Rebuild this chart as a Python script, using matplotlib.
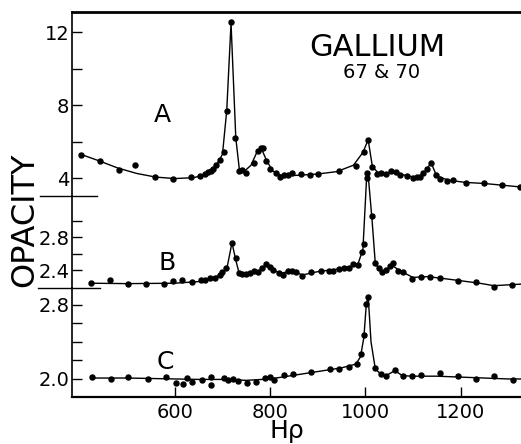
import numpy as np
import matplotlib
matplotlib.use("Agg")
import matplotlib.pyplot as plt
from matplotlib.lines import Line2D

# --- trace A ---
a_dot_x = [403, 443, 482, 517, 558, 596, 633, 653, 663, 670, 676, 680, 687, 695, 703,
           709, 718, 727, 735, 742, 750, 767, 774, 781, 785, 792, 800, 812, 821, 829,
           837, 846, 864, 884, 900, 944, 981, 998, 1006, 1015, 1025, 1033, 1043, 1054,
           1064, 1073, 1088, 1100, 1108, 1115, 1122, 1130, 1138, 1148, 1156, 1172, 1185,
           1211, 1250, 1288, 1325]
a_dot_y = [5.28, 4.95, 4.44, 4.69, 4.07, 3.93, 4.07, 4.11, 4.24, 4.31, 4.40, 4.48, 4.69, 4.99, 5.44,
           7.7, 12.53, 6.2, 4.37, 4.44, 4.29, 4.8, 5.5, 5.63, 5.63, 4.95, 4.51, 4.29, 4.07, 4.18,
           4.18, 4.27, 4.2, 4.18, 4.22, 4.38, 4.66, 5.44, 6.1, 4.6, 4.2, 4.25, 4.24, 4.36,
           4.35, 4.15, 4.11, 4.0, 4.05, 4.04, 4.26, 4.48, 4.85, 4.15, 3.96, 3.85, 3.89,
           3.75, 3.74, 3.61, 3.52]
a_line_x = [400, 440, 480, 520, 560, 600, 640, 665, 685, 700, 709, 718, 728, 736, 745, 760, 772,
            782, 792, 805, 825, 860, 900, 940, 975, 995, 1006, 1015, 1030, 1050, 1070, 1090,
            1110, 1125, 1138, 1150, 1175, 1210, 1250, 1290, 1330]
a_line_y = [5.32, 4.95, 4.55, 4.25, 4.05, 3.97, 4.02, 4.2, 4.6, 5.3, 7.7, 12.5, 6.2, 4.35, 4.35,
            4.7, 5.4, 5.6, 5.0, 4.4, 4.12, 4.15, 4.22, 4.35, 4.7, 5.4, 6.1, 4.6, 4.22, 4.3,
            4.25, 4.1, 4.05, 4.3, 4.85, 4.1, 3.88, 3.76, 3.70, 3.6, 3.5]

# --- trace B ---
b_dot_x = [424, 464, 501, 540, 578, 596, 615, 636, 654, 664, 673, 684, 694, 700, 708,
           720, 728, 734, 742, 749, 758, 767, 774, 783, 791, 799, 807, 819, 828, 837,
           846, 854, 867, 886, 907, 923, 933, 945, 956, 965, 975, 984, 993, 998, 1003,
           1004, 1014, 1021, 1028, 1036, 1043, 1051, 1059, 1068, 1079, 1099, 1117, 1136,
           1156, 1194, 1232, 1271, 1308]
b_dot_y = [2.24, 2.275, 2.227, 2.227, 2.234, 2.27, 2.275, 2.25, 2.275, 2.28, 2.30, 2.307, 2.34, 2.37, 2.42,
           2.73, 2.54, 2.36, 2.35, 2.35, 2.36, 2.39, 2.37, 2.42, 2.47, 2.44, 2.40, 2.36, 2.34, 2.39,
           2.39, 2.38, 2.33, 2.38, 2.39, 2.39, 2.39, 2.41, 2.43, 2.43, 2.47, 2.46, 2.62, 2.715, 3.51,
           3.57, 3.05, 2.48, 2.42, 2.37, 2.40, 2.45, 2.49, 2.39, 2.38, 2.29, 2.315, 2.32,
           2.30, 2.27, 2.25, 2.20, 2.22]
b_line_x = [424, 500, 600, 650, 680, 700, 710, 720, 728, 735, 750, 765, 775, 790, 805, 820, 840,
            855, 868, 900, 940, 970, 985, 995, 1003, 1006, 1014, 1021, 1030, 1040, 1055, 1068,
            1080, 1100, 1130, 1160, 1200, 1240, 1270, 1300, 1330]
b_line_y = [2.24, 2.235, 2.24, 2.26, 2.30, 2.36, 2.44, 2.73, 2.52, 2.36, 2.35, 2.38, 2.38, 2.46,
            2.41, 2.36, 2.38, 2.37, 2.34, 2.38, 2.41, 2.44, 2.48, 2.65, 3.55, 3.55, 3.02, 2.48,
            2.40, 2.38, 2.46, 2.41, 2.37, 2.31, 2.32, 2.30, 2.27, 2.24, 2.21, 2.22, 2.23]

# --- trace C ---
c_dot_x = [426, 466, 501, 544, 581, 602, 617, 626, 636, 656, 675, 675, 703, 712, 723,
           732, 751, 770, 790, 799, 809, 830, 849, 886, 926, 945, 966, 982, 992, 997,
           1002, 1005, 1021, 1033, 1044, 1062, 1080, 1099, 1118, 1157, 1195, 1232, 1271, 1310]
c_dot_y = [2.018, 2.0, 2.025, 2.003, 2.025, 1.96, 1.95, 2.014, 1.968, 1.99, 2.018, 1.94, 2.014, 1.99, 2.0,
           1.98, 1.96, 1.968, 2.014, 2.025, 1.99, 2.043, 2.05, 2.072, 2.105, 2.105, 2.133, 2.159, 2.27, 2.475,
           2.81, 2.89, 2.116, 2.054, 2.036, 2.10, 2.032, 2.036, 2.043, 2.06, 2.036, 2.004, 2.032, 1.985]
c_line_x = [426, 500, 600, 650, 700, 750, 800, 850, 900, 950, 980, 990, 997, 1002, 1006, 1012,
            1021, 1033, 1045, 1062, 1078, 1100, 1150, 1200, 1250, 1300, 1330]
c_line_y = [2.01, 2.01, 2.0, 1.995, 1.995, 1.985, 2.0, 2.04, 2.08, 2.12, 2.16, 2.24, 2.45, 2.80,
            2.90, 2.4, 2.11, 2.05, 2.04, 2.09, 2.035, 2.03, 2.03, 2.02, 2.01, 2.0, 2.0]

x_ticks = [600, 800, 1000, 1200]

panels = [
    dict(name="A", dx=a_dot_x, dy=a_dot_y, lx=a_line_x, ly=a_line_y, ylim=(3.014, 13.10),
         ticks=[4, 6, 8, 10, 12], labels=["4", "", "8", "", "12"], lab_xy=(573, 7.45)),
    dict(name="B", dx=b_dot_x, dy=b_dot_y, lx=b_line_x, ly=b_line_y, ylim=(2.182, 3.297),
         ticks=[2.4, 2.6, 2.8, 3.0], labels=["2.4", "", "2.8", ""], lab_xy=(584, 2.485)),
    dict(name="C", dx=c_dot_x, dy=c_dot_y, lx=c_line_x, ly=c_line_y, ylim=(1.805, 2.983),
         ticks=[2.0, 2.2, 2.4, 2.6, 2.8], labels=["2.0", "", "", "", "2.8"], lab_xy=(581, 2.18)),
]

W, H = 521, 444
fig = plt.figure(figsize=(W / 100, H / 100), dpi=100)
plt.rcParams["font.family"] = ["DejaVu Sans"]

edges = [12, 196, 288, 397]  # pixel rows: top, A|B, B|C, bottom
left = 72 / W
axes = []
for i, p in enumerate(panels):
    top, bot = edges[i], edges[i + 1]
    ax = fig.add_axes([left, 1 - bot / H, 1 - left, (bot - top) / H])
    ax.plot(p["lx"], p["ly"], color="k", lw=1.0, clip_on=False, zorder=2)
    ax.plot(p["dx"], p["dy"], "o", color="k", ms=3.6, clip_on=False, zorder=3)
    ax.set_xlim(384, 1327)
    ax.set_ylim(*p["ylim"])
    ax.set_yticks(p["ticks"])
    ax.set_yticklabels(p["labels"])
    ax.tick_params(axis="y", direction="in", length=7, width=1.0, pad=2, labelsize=14)
    ax.tick_params(axis="x", direction="in", length=7.5, width=1.0, pad=4, labelsize=14)
    ax.spines["right"].set_visible(False)
    ax.spines["left"].set_linewidth(1.2)
    ax.spines["top"].set_visible(i == 0)
    ax.spines["top"].set_linewidth(2.0)
    ax.spines["bottom"].set_visible(i == 2)
    ax.spines["bottom"].set_linewidth(1.6)
    ax.patch.set_visible(False)
    if i < 2:
        ax.set_xticks([])
    else:
        ax.set_xticks(x_ticks)
    ax.text(*p["lab_xy"], p["name"], fontsize=18, ha="center", va="center")
    axes.append(ax)

# short separators across the y axis between panels
for row, (x0, x1) in zip([196, 288], [(40, 97), (38, 100)]):
    fig.add_artist(Line2D([x0 / W, x1 / W], [1 - row / H, 1 - row / H],
                          transform=fig.transFigure, color="k", lw=1.0))

fig.text(25 / W, 1 - 220 / H, "OPACITY", rotation=90, ha="center", va="center", fontsize=23)
fig.text(287 / W, 1 - 431 / H, "Hρ", ha="center", va="center", fontsize=18)
fig.text(377 / W, 1 - 48 / H, "GALLIUM", ha="center", va="center", fontsize=22)
fig.text(382 / W, 1 - 72 / H, "67 & 70", ha="center", va="center", fontsize=14)

fig.savefig("out.png", dpi=100)
